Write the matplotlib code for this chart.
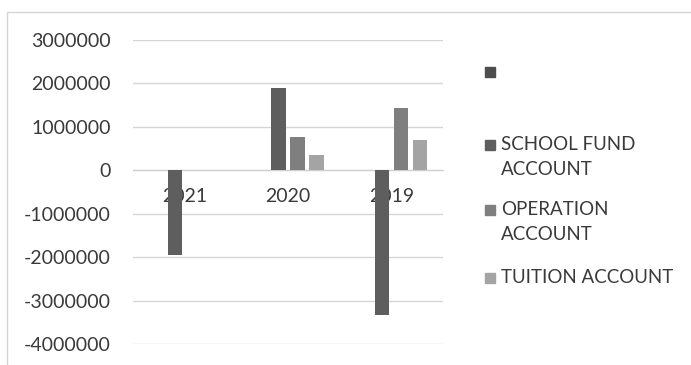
import matplotlib
matplotlib.use("Agg")
import matplotlib.pyplot as plt
from matplotlib.patches import Rectangle
import numpy as np

plt.rcParams['font.family'] = ['Lato', 'DejaVu Sans']

# Data
years = ["2021", "2020", "2019"]
series_names = ["", "SCHOOL FUND\nACCOUNT", "OPERATION\nACCOUNT", "TUITION ACCOUNT"]
blank_series = [0, 0, 0]
school_fund = [-1950000, 1900000, -3330000]
operation = [0, 760000, 1440000]
tuition = [0, 360000, 700000]
y_ticks = [3000000, 2000000, 1000000, 0, -1000000, -2000000, -3000000, -4000000]

series_values = [blank_series, school_fund, operation, tuition]
colors = ["#4d4d4d", "#5e5e5e", "#7f7f7f", "#a4a4a4"]
text_color = "#3a3a3a"
grid_color = "#d6d6d6"

W, H = 691, 365
fig = plt.figure(figsize=(W / 100, H / 100), dpi=100)
fig.patch.set_facecolor("white")

# chart area border (top and left edges visible)
fig.add_artist(Rectangle((7 / W, -0.1), 1.2, 1 - 12 / H + 0.1,
                         transform=fig.transFigure, fill=False,
                         edgecolor="#d4d4d4", linewidth=1))

left, right, top, bottom = 133, 443, 40, 344
ax = fig.add_axes([left / W, 1 - bottom / H, (right - left) / W, (bottom - top) / H])

x = np.arange(len(years))
step = 0.184
width = 0.136
for i, (vals, c) in enumerate(zip(series_values, colors)):
    ax.bar(x + (i - 1.5) * step, vals, width=width, color=c, zorder=3)

ax.set_xlim(-0.5, len(years) - 0.5)
ax.set_ylim(min(y_ticks), max(y_ticks))
ax.set_yticks(y_ticks)
ax.set_yticklabels([str(v) for v in y_ticks])
ax.grid(axis="y", color=grid_color, linewidth=1, zorder=0)
ax.set_xticks(x)
ax.set_xticklabels(years)

for s in ["top", "right", "left"]:
    ax.spines[s].set_visible(False)
ax.spines["bottom"].set_position(("data", 0))
ax.spines["bottom"].set_color("#cfcfcf")
ax.spines["bottom"].set_zorder(2)

ax.tick_params(axis="y", length=0, pad=16, labelsize=14, labelcolor=text_color)
ax.tick_params(axis="x", length=0, pad=13, labelsize=14, labelcolor=text_color)
for lbl in ax.get_xticklabels():
    lbl.set_zorder(5)

# legend drawn at the right of the chart
legend_rows = [72, 145, 210, 278]
for name, c, yy in zip(series_names, colors, legend_rows):
    fig.add_artist(Rectangle((485 / W, 1 - (yy + 5) / H), 10 / W, 10 / H,
                             transform=fig.transFigure, color=c))
    if name:
        fig.text(501 / W, 1 - (yy - 9) / H, name, fontsize=13.5, color=text_color,
                 va="top", ha="left", linespacing=1.55)

fig.savefig("out.png", dpi=100, facecolor="white")
